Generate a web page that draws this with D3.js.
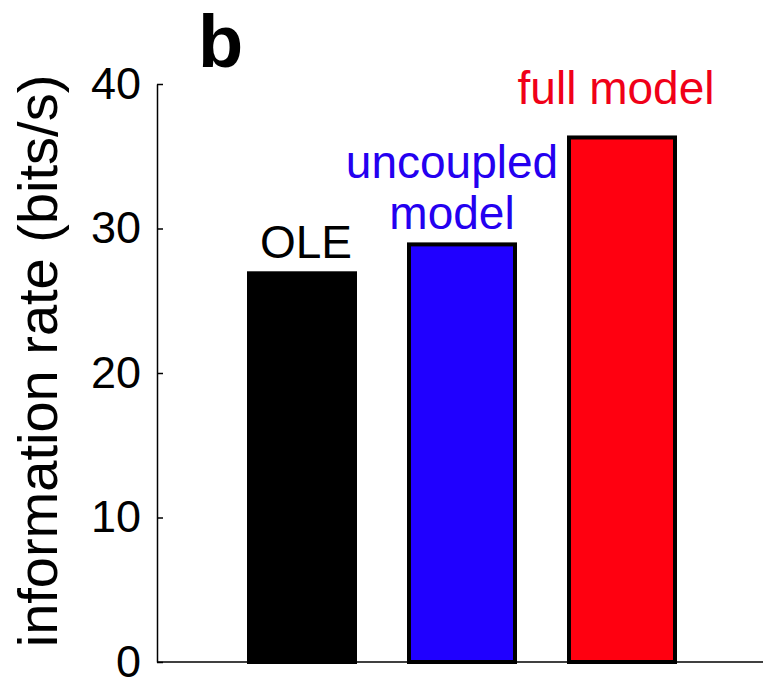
<!DOCTYPE html>
<html>
<head>
<meta charset="utf-8">
<script src="https://cdn.jsdelivr.net/npm/d3@7"></script>
<style>
  body { margin: 0; background: #fff; }
  svg { display: block; font-family: "Liberation Sans", Arial, sans-serif; }
</style>
</head>
<body>
<div id="chart"></div>
<script>
// data
const categories = ['OLE', 'uncoupled model', 'full model'];
const rates = [26.9, 28.9, 36.3];
const barColors = ['#000000', '#2000ff', '#ff0010'];
const labelColors = ['#000000', '#2400f0', '#f00018'];
const labelLines = [['OLE'], ['uncoupled', 'model'], ['full model']];
const yTicks = [0, 10, 20, 30, 40];

const width = 763;
const height = 682;

const svg = d3.select('#chart').append('svg')
    .attr('width', width)
    .attr('height', height);

const x = d3.scaleBand()
    .domain(categories)
    .range([222, 702])
    .paddingInner(0.3125)
    .paddingOuter(0.15625);

const y = d3.scaleLinear()
    .domain([0, 40])
    .range([662, 84]);

const strokeW = 4;

// bars
svg.append('g')
    .selectAll('rect')
    .data(categories)
    .enter().append('rect')
    .attr('x', d => x(d) + strokeW / 2)
    .attr('y', (d, i) => y(rates[i]))
    .attr('width', x.bandwidth() - strokeW)
    .attr('height', (d, i) => y(0) - y(rates[i]))
    .attr('fill', (d, i) => barColors[i])
    .attr('stroke', '#000')
    .attr('stroke-width', strokeW);

// y axis, ticks pointing inward like matlab
const yAxis = svg.append('g')
    .attr('transform', `translate(157,0)`)
    .call(d3.axisLeft(y).tickValues(yTicks).tickSize(-6).tickPadding(16).tickSizeOuter(0));

yAxis.select('.domain').attr('stroke', '#000').attr('stroke-width', 1.5);
yAxis.selectAll('.tick line').attr('stroke', '#000').attr('stroke-width', 1.5);
yAxis.selectAll('.tick text')
    .attr('fill', '#000')
    .style('font-size', '45px');

// x axis baseline
svg.append('line')
    .attr('x1', 157).attr('x2', width)
    .attr('y1', y(0)).attr('y2', y(0))
    .attr('stroke', '#000')
    .attr('stroke-width', 1.5);

// y label
svg.append('text')
    .attr('transform', 'translate(57,361) rotate(-90)')
    .attr('text-anchor', 'middle')
    .style('font-size', '56px')
    .attr('fill', '#000')
    .text('information rate (bits/s)');

// bar labels
const labelGap = [15, 15, 33];
const labelShift = [4, -10, -6];
const lineH = 51;

categories.forEach((c, i) => {
    const lines = labelLines[i];
    const cx = x(c) + x.bandwidth() / 2 + labelShift[i];
    const baseY = y(rates[i]) - labelGap[i];
    lines.forEach((t, j) => {
        svg.append('text')
            .attr('x', cx)
            .attr('y', baseY - (lines.length - 1 - j) * lineH)
            .attr('text-anchor', 'middle')
            .style('font-size', '46px')
            .attr('fill', labelColors[i])
            .text(t);
    });
});

// panel letter
svg.append('text')
    .attr('x', 198)
    .attr('y', 67)
    .style('font-size', '74px')
    .style('font-weight', 'bold')
    .attr('fill', '#000')
    .text('b');
</script>
</body>
</html>
